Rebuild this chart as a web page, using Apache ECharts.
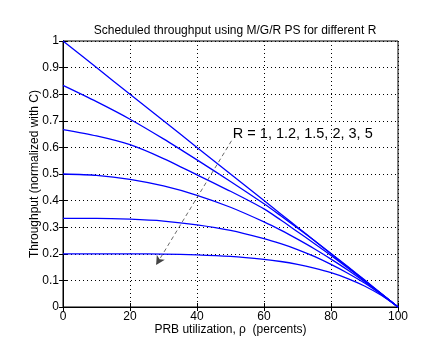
<!DOCTYPE html>
<html>
<head>
<meta charset="utf-8">
<script src="https://cdn.jsdelivr.net/npm/echarts@6/dist/echarts.min.js"></script>
<style>
html,body{margin:0;padding:0;background:#fff;}
#c{width:426px;height:341px;}
</style>
</head>
<body>
<div id="c"></div>
<script>
// PRB utilization (percent)
const rho = [0, 10, 20, 30, 40, 50, 60, 65, 70, 75, 80, 85, 90, 95, 100];
// Throughput normalized with C, one list per R
const R1   = [1.000, 0.900, 0.800, 0.700, 0.600, 0.500, 0.400, 0.350, 0.300, 0.250, 0.200, 0.150, 0.100, 0.050, 0];
const R1_2 = [0.833, 0.772, 0.706, 0.632, 0.553, 0.472, 0.388, 0.343, 0.297, 0.250, 0.201, 0.152, 0.102, 0.051, 0];
const R1_5 = [0.667, 0.643, 0.610, 0.558, 0.497, 0.435, 0.369, 0.327, 0.283, 0.239, 0.194, 0.147, 0.099, 0.050, 0];
const R2   = [0.500, 0.495, 0.480, 0.455, 0.420, 0.375, 0.320, 0.289, 0.255, 0.219, 0.180, 0.139, 0.095, 0.049, 0];
const R3   = [0.333, 0.333, 0.330, 0.323, 0.309, 0.288, 0.257, 0.238, 0.216, 0.190, 0.160, 0.127, 0.090, 0.047, 0];
const R5   = [0.200, 0.200, 0.200, 0.199, 0.196, 0.190, 0.179, 0.171, 0.160, 0.146, 0.129, 0.107, 0.079, 0.044, 0];
const seriesList = [R1, R1_2, R1_5, R2, R3, R5];
const xTicks = [0, 20, 40, 60, 80, 100];
const annotationText = 'R = 1, 1.2, 1.5, 2, 3, 5';

const FONT = 'Liberation Sans, Arial, Helvetica, sans-serif';
const chart = echarts.init(document.getElementById('c'), null, {renderer: 'canvas'});

const series = seriesList.map((vals, i) => ({
  type: 'line',
  data: rho.map((x, j) => [x, vals[j]]),
  showSymbol: false,
  symbol: 'none',
  smooth: 0.25,
  lineStyle: {color: '#0000ff', width: 1.3},
  silent: true,
  animation: false,
  z: 3
}));

series[0].markPoint = {
  symbol: 'circle',
  symbolSize: 0,
  silent: true,
  animation: false,
  data: [{coord: [50.7, 0.651], value: annotationText}],
  label: {
    show: true, position: 'right', distance: 0,
    formatter: annotationText,
    color: '#000', fontFamily: FONT, fontSize: 14.5
  }
};
series[0].markLine = {
  silent: true,
  animation: false,
  symbol: ['none', 'arrow'],
  symbolSize: [7, 9],
  label: {show: false},
  lineStyle: {color: '#444', width: 0.8, type: [4, 3]},
  data: [[{coord: [50.3, 0.625]}, {coord: [27.8, 0.158]}]]
};

const gridTickStyle = {show: true, inside: true, length: 4, lineStyle: {color: '#000', width: 1}};

chart.setOption({
  animation: false,
  backgroundColor: '#fff',
  title: {
    text: 'Scheduled throughput using M/G/R PS for different R',
    left: 230, top: 20, textAlign: 'center',
    textStyle: {fontFamily: FONT, fontSize: 12, fontWeight: 'normal', color: '#000'}
  },
  grid: {left: 63, right: 28, top: 41, bottom: 34, show: true, borderColor: '#000', borderWidth: 1, backgroundColor: 'transparent'},
  xAxis: [{
    type: 'value', min: 0, max: 100, interval: 20,
    name: 'PRB utilization, \u03c1  (percents)',
    nameLocation: 'middle', nameGap: 17, nameMoveOverlap: false,
    nameTextStyle: {fontFamily: FONT, fontSize: 12, color: '#000'},
    axisLine: {show: true, onZero: false, lineStyle: {color: '#000', width: 1}},
    axisTick: gridTickStyle,
    axisLabel: {margin: 4, fontFamily: FONT, fontSize: 12, color: '#000',
      formatter: v => xTicks.includes(v) ? String(v) : ''},
    splitLine: {show: true, lineStyle: {color: '#000', width: 1, type: [1, 3]}}
  }, {
    type: 'value', min: 0, max: 100, interval: 20, position: 'top',
    axisLine: {show: true, lineStyle: {color: '#000', width: 1}},
    axisTick: gridTickStyle, axisLabel: {show: false}, splitLine: {show: false}
  }],
  yAxis: [{
    type: 'value', min: 0, max: 1, interval: 0.1,
    name: 'Throughput (normalized with C)',
    nameLocation: 'middle', nameGap: 22, nameRotate: 90, nameMoveOverlap: false,
    nameTextStyle: {fontFamily: FONT, fontSize: 12, color: '#000'},
    axisLine: {show: true, onZero: false, lineStyle: {color: '#000', width: 1}},
    axisTick: gridTickStyle,
    axisLabel: {margin: 4, fontFamily: FONT, fontSize: 12, color: '#000',
      formatter: v => String(Math.round(v * 10) / 10)},
    splitLine: {show: true, lineStyle: {color: '#000', width: 1, type: [1, 3]}}
  }, {
    type: 'value', min: 0, max: 1, interval: 0.1, position: 'right',
    axisLine: {show: true, lineStyle: {color: '#000', width: 1}},
    axisTick: gridTickStyle, axisLabel: {show: false}, splitLine: {show: false}
  }],
  series: series
});
</script>
</body>
</html>
